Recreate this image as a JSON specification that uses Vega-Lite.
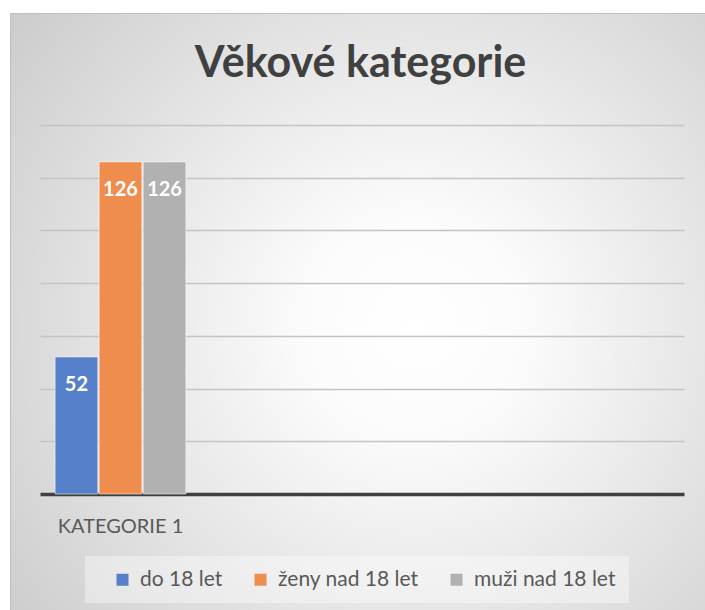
{
  "$schema": "https://vega.github.io/schema/vega-lite/v6.json",
  "width": 695,
  "height": 597,
  "autosize": {"type": "none"},
  "padding": {"left": 10, "top": 13, "right": 0, "bottom": 0},
  "background": "#ffffff",
  "view": {
    "fill": {
      "gradient": "radial",
      "x1": 0.58, "y1": 0.52, "r1": 0,
      "x2": 0.58, "y2": 0.52, "r2": 0.8,
      "stops": [
        {"offset": 0, "color": "#ffffff"},
        {"offset": 0.2, "color": "#fbfbfb"},
        {"offset": 1, "color": "#c6c6c6"}
      ]
    },
    "stroke": "#bfbfbf",
    "strokeWidth": 1
  },
  "title": {
    "text": "Věkové kategorie",
    "font": "Lato",
    "fontSize": 43,
    "fontWeight": "bold",
    "color": "#404040",
    "anchor": "middle",
    "baseline": "alphabetic",
    "offset": -107,
    "dx": 3
  },
  "data": {
    "values": [
      {"kategorie": "KATEGORIE 1", "serie": "do 18 let", "hodnota": 52},
      {"kategorie": "KATEGORIE 1", "serie": "ženy nad 18 let", "hodnota": 126},
      {"kategorie": "KATEGORIE 1", "serie": "muži nad 18 let", "hodnota": 126}
    ]
  },
  "encoding": {
    "x": {
      "field": "kategorie",
      "type": "nominal",
      "scale": {
        "domain": ["KATEGORIE 1", "K2", "K3", "K4"],
        "range": [30, 674],
        "paddingInner": 0,
        "paddingOuter": 0
      },
      "axis": {
        "title": null,
        "offset": -116,
        "domainColor": "#404040",
        "domainWidth": 3.5,
        "ticks": false,
        "tickSize": 0,
        "grid": false,
        "labelFont": "Lato",
        "labelFontSize": 20,
        "labelColor": "#595959",
        "labelPadding": 38,
        "labelBaseline": "alphabetic",
        "labelAngle": 0,
        "labelExpr": "datum.value == 'KATEGORIE 1' ? datum.value : ''"
      }
    },
    "xOffset": {
      "field": "serie",
      "type": "nominal",
      "scale": {
        "domain": ["do 18 let", "ženy nad 18 let", "muži nad 18 let"],
        "paddingInner": 0.03,
        "paddingOuter": 0.343
      }
    },
    "y": {
      "field": "hodnota",
      "type": "quantitative",
      "scale": {"domain": [0, 140], "range": [481, 112], "nice": false, "zero": true},
      "axis": {
        "title": null,
        "labels": false,
        "ticks": false,
        "domain": false,
        "grid": true,
        "gridColor": "#c4c4c4",
        "gridWidth": 1.3,
        "values": [20, 40, 60, 80, 100, 120, 140]
      }
    }
  },
  "layer": [
    {
      "mark": {"type": "bar", "stroke": "#ffffff", "strokeOpacity": 0.55, "strokeWidth": 1},
      "encoding": {
        "color": {
          "field": "serie",
          "type": "nominal",
          "scale": {
            "domain": ["do 18 let", "ženy nad 18 let", "muži nad 18 let"],
            "range": ["#5680c9", "#ee8d4d", "#b1b1b1"]
          },
          "legend": {
            "title": " ",
            "titleOrient": "left",
            "titleFontSize": 8,
            "titlePadding": 14,
            "orient": "none",
            "legendX": 75,
            "legendY": 543,
            "direction": "horizontal",
            "symbolType": "square",
            "symbolSize": 144,
            "symbolStrokeWidth": 0,
            "labelFont": "Lato",
            "labelFontSize": 21,
            "labelColor": "#595959",
            "labelOffset": 7,
            "columnPadding": 27,
            "padding": 13,
            "fillColor": "rgba(255,255,255,0.38)",
            "strokeColor": null
          }
        }
      }
    },
    {
      "mark": {
        "type": "text",
        "baseline": "alphabetic",
        "dy": 34,
        "font": "Lato",
        "fontSize": 20,
        "fontWeight": "bold",
        "color": "#ffffff"
      },
      "encoding": {
        "text": {"field": "hodnota", "type": "quantitative"}
      }
    }
  ]
}
